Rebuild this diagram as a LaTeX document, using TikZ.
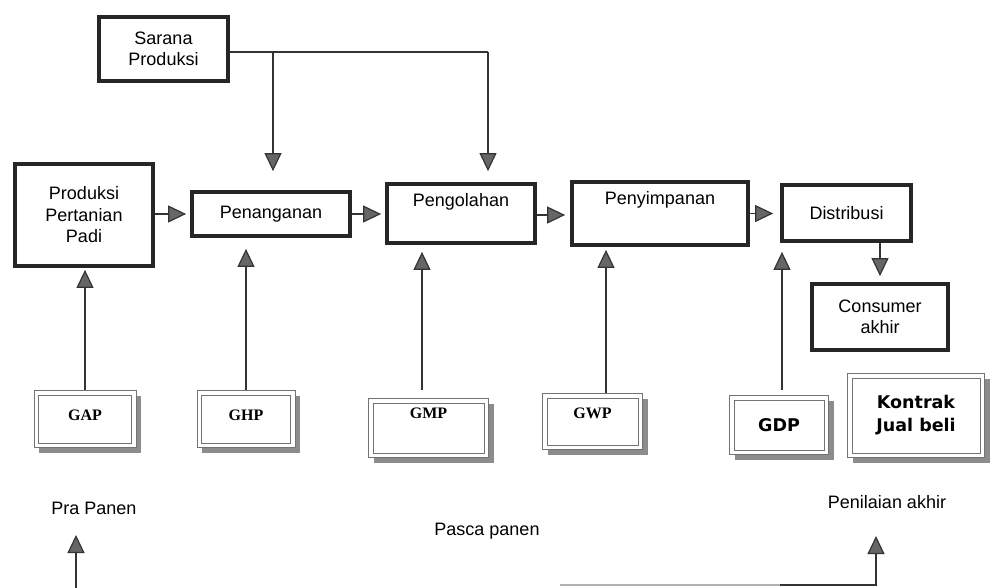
\documentclass[tikz,border=0pt]{standalone}
\usepackage{fontspec}
\setmainfont{Liberation Sans}
\newfontfamily\timesface{Liberation Serif}
\newfontfamily\verdface{DejaVu Sans}
\usetikzlibrary{arrows.meta,shadows}
% lift a label inside its box without changing the box size
\newcommand{\lifted}[2]{\raisebox{#1}[0pt][0pt]{#2}}
\begin{document}
\begin{tikzpicture}[x=1pt,y=-1pt,
  every node/.style={font=\fontsize{18}{21.5}\selectfont, inner sep=0pt, align=center},
  stage/.style={draw=black!85, line width=3.8pt, fill=white},
  practice/.style={draw=black!55, line width=0.7pt, fill=white,
    drop shadow={shadow xshift=5pt, shadow yshift=-5pt, fill=black!45, opacity=1},
    path picture={\draw[black!55, line width=0.7pt]
      ([shift={(4.5pt,4.5pt)}]path picture bounding box.south west) rectangle
      ([shift={(-4.5pt,-4.5pt)}]path picture bounding box.north east);}},
  serifcode/.style={font=\timesface\bfseries\fontsize{16}{19}\selectfont},
  sanscode/.style={font=\verdface\bfseries\fontsize{17.5}{23}\selectfont},
  conn/.style={line width=1.2pt, draw=black!80},
  arr/.style={conn, -{Triangle[length=18pt, width=17pt, fill=black!60]}},
]
\useasboundingbox (0,0) rectangle (990,587);

% process stages
\node[stage, minimum width=129pt, minimum height=64pt] (sar) at (163.5,49) {Sarana\\Produksi};
\node[stage, minimum width=138pt, minimum height=102pt] (prod) at (84,215) {Produksi\\Pertanian\\Padi};
\node[stage, minimum width=158pt, minimum height=44pt] (pena) at (271,214) {Penanganan};
\node[stage, minimum width=148pt, minimum height=59pt] (peng) at (461,213.5) {\lifted{7.5pt}{Pengolahan}};
\node[stage, minimum width=176pt, minimum height=63pt] (peny) at (660,213.5) {\lifted{9.5pt}{Penyimpanan}};
\node[stage, minimum width=129pt, minimum height=56pt] (dist) at (846.5,213) {Distribusi};
\node[stage, minimum width=136pt, minimum height=66pt] (cons) at (880,317) {Consumer\\akhir};

% good-practice standards
\node[practice, serifcode, minimum width=102pt, minimum height=57pt] (gap) at (85,419) {\lifted{-1.5pt}{GAP}};
\node[practice, serifcode, minimum width=98pt, minimum height=57pt] (ghp) at (246,419) {\lifted{-1.5pt}{GHP}};
\node[practice, serifcode, minimum width=120pt, minimum height=59pt] (gmp) at (428.5,428) {\lifted{9.5pt}{GMP}};
\node[practice, serifcode, minimum width=100pt, minimum height=56pt] (gwp) at (592.5,421.5) {\lifted{3.5pt}{GWP}};
\node[practice, sanscode, minimum width=99pt, minimum height=59pt] (gdp) at (779,425) {GDP};
\node[practice, sanscode, minimum width=137pt, minimum height=84pt] (kjb) at (916,415.5) {Kontrak\\Jual beli};

% phase labels
\node (pra) at (94,508) {Pra Panen};
\node (pasca) at (487,531) {Pasca panen};
\node (nilai) at (887,502) {Penilaian akhir};

% supply of production inputs
\coordinate (j1) at (273,52);
\coordinate (j2) at (488,52);
\draw[conn] (sar.east |- j1) -- (j2);
\draw[arr, shorten >=19pt] (j1) -- (j1 |- pena.north);
\draw[arr, shorten >=11pt] (j2) -- (j2 |- peng.north);

% main chain
\draw[arr, shorten >=4pt] (prod.east |- pena.west) -- (pena.west);
\draw[arr, shorten >=4pt] (pena.east) -- (peng.west |- pena.east);
\draw[arr, shorten >=5pt] ([yshift=-1.5pt]peng.east) -- ([yshift=-1.5pt]peny.west);
\draw[arr, shorten >=7pt] (peny.east) -- (dist.west |- peny.east);
\draw[arr, shorten >=6pt] (dist.south -| cons.north) -- (cons.north);

% standards feeding the stages
\draw[arr, shorten >=2pt] (gap.north) -- (gap.north |- prod.south);
\draw[arr, shorten >=11pt] (ghp.north) -- (ghp.north |- pena.south);
\draw[arr, shorten <=8pt, shorten >=7pt] ([xshift=-6.5pt]gmp.north) -- ([xshift=-6.5pt]gmp.north |- peng.south);
\draw[arr, shorten >=3pt] ([xshift=13.5pt]gwp.north) -- ([xshift=13.5pt]gwp.north |- peny.south);
\draw[arr, shorten <=5pt, shorten >=9pt] ([xshift=3pt]gdp.north) -- ([xshift=3pt]gdp.north |- dist.south);

% phase markers along the lower edge
\coordinate (pratail) at (76,592);
\coordinate (pratip) at (76,535);
\draw[arr] (pratail) -- (pratip);
\coordinate (pnfoot) at (560,585);
\coordinate (pnmid) at (780,585);
\coordinate (pnbend) at (876,585);
\coordinate (pntip) at (876,536);
\draw[conn, draw=black!30] (pnfoot) -- (pnmid);
\draw[arr] (pnmid) -- (pnbend) -- (pntip);
\end{tikzpicture}
\end{document}
